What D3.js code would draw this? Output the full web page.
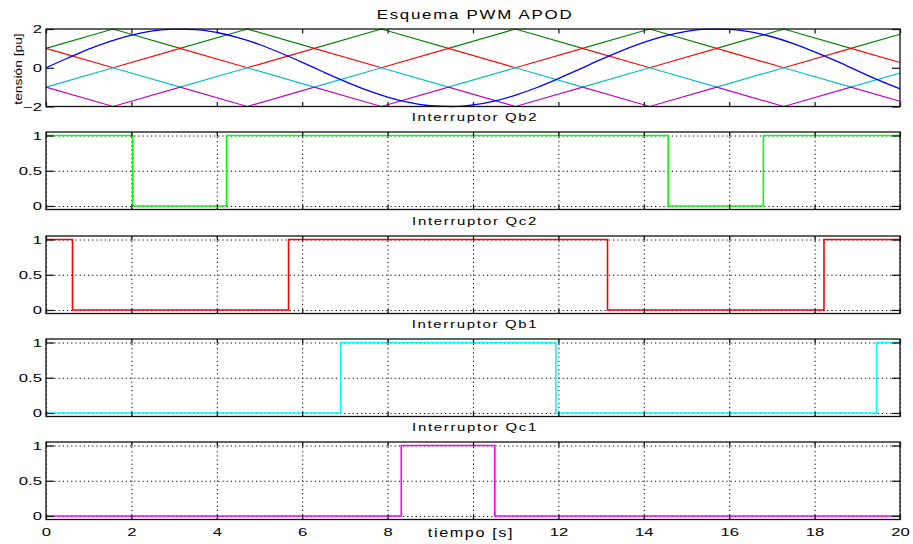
<!DOCTYPE html>
<html><head><meta charset="utf-8">
<script src="https://cdn.jsdelivr.net/npm/d3@7"></script>
<style>
body{margin:0;background:#fff;}
svg{display:block;font-family:"Liberation Sans",Arial,Helvetica,sans-serif;}
</style></head><body>
<svg id="c" width="913" height="544"></svg>
<script>
// ---------- data ----------
const carrierTime   = [0,1.571,3.142,4.712,6.283,7.854,9.425,10.996,12.566,14.137,15.708,17.279,18.850,20];
const carrierGreen  = [1,2,1,2,1,2,1,2,1,2,1,2,1,1.73];
const carrierRed    = [1,0,1,0,1,0,1,0,1,0,1,0,1,0.27];
const carrierCyan   = [-1,0,-1,0,-1,0,-1,0,-1,0,-1,0,-1,-0.27];
const carrierMagenta= [-1,-2,-1,-2,-1,-2,-1,-2,-1,-2,-1,-2,-1,-1.73];

const refTime   = [0,0.5,1,1.5,2,2.5,3,3.5,4,4.5,5,5.5,6,6.5,7,7.5,8,8.5,9,9.5,10,10.5,11,11.5,12,12.5,13,13.5,14,14.5,15,15.5,16,16.5,17,17.5,18,18.5,19,19.5,20];
const refValues = [0,0.49,0.96,1.36,1.68,1.90,1.99,1.97,1.82,1.56,1.20,0.76,0.28,-0.22,-0.70,-1.14,-1.51,-1.79,-1.96,-2.00,-1.92,-1.72,-1.41,-1.02,-0.56,-0.07,0.43,0.90,1.31,1.65,1.88,1.99,1.98,1.85,1.60,1.25,0.82,0.35,-0.15,-0.64,-1.09];

const qb2Times  = [0,2.03,4.23,14.57,16.80,20];
const qb2States = [1,0,1,0,1,1];
const qc2Times  = [0,0.62,5.68,13.15,18.22,20];
const qc2States = [1,0,1,0,1,1];
const qb1Times  = [0,6.90,11.94,19.45,20];
const qb1States = [0,1,0,1,1];
const qc1Times  = [0,8.32,10.51,20];
const qc1States = [0,1,0,0];

const titles = ["Esquema PWM APOD","Interruptor Qb2","Interruptor Qc2","Interruptor Qb1","Interruptor Qc1"];
const xTicks = [0,2,4,6,8,10,12,14,16,18,20];
const xTickLabels = ["0","2","4","6","8","","12","14","16","18","20"];
const topYTicks = [-2,0,2];
const topYTickLabels = ["\u22122","0","2"];
const switchYTicks = [0,0.5,1];
const switchYTickLabels = ["0","0.5","1"];
const xLabel = "tiempo [s]";
const yLabel = "tensión [pu]";

// ---------- layout ----------
const svg = d3.select("#c");
const L = 46, R = 900;
const W = R - L;
const panelTops = [29,132,236,339,442];
const panelH = 77.5;
const SX = 1.45;
const x = d3.scaleLinear().domain([0,20]).range([L,R]);

function stretchLeft(sel){
  sel.selectAll("text").each(function(){
    const t=d3.select(this); const xx=+t.attr("x");
    t.attr("x",0).attr("transform",`translate(${xx},0) scale(${SX},1)`);
  });
}

function makePanel(i, ydom, yticks, grid){
  const top = panelTops[i], bot = top + panelH;
  const y = d3.scaleLinear().domain(ydom).range([bot, top]);
  const g = svg.append("g");
  if (grid){
    const gs = s=>{s.select(".domain").remove();
      s.selectAll("line").attr("stroke","#000").attr("stroke-width",1).attr("stroke-dasharray","1.2,3");};
    g.append("g").attr("transform",`translate(0,${bot})`)
      .call(d3.axisBottom(x).tickValues(xTicks).tickSize(-panelH).tickFormat("")).call(gs);
    g.append("g").attr("transform",`translate(${L},0)`)
      .call(d3.axisLeft(y).tickValues(yticks).tickSize(-W).tickFormat("")).call(gs);
  }
  return {g, y, top, bot};
}

function frame(p, yticks, ylabels, showX){
  const {g,y,top,bot} = p;
  const style = s=>{s.select(".domain").remove(); s.selectAll("line").attr("stroke","#111").attr("stroke-width",1.2);};
  const bx = g.append("g").attr("transform",`translate(0,${bot})`)
    .call(d3.axisBottom(x).tickValues(xTicks).tickSize(-4.5).tickPadding(8.5)
      .tickFormat((d,i)=> showX ? xTickLabels[i] : ""))
    .call(style);
  bx.selectAll("text").attr("font-size",11.5).attr("fill","#000").attr("font-family",null)
    .attr("transform",`scale(${SX},1)`);
  g.append("g").attr("transform",`translate(0,${top})`)
    .call(d3.axisTop(x).tickValues(xTicks).tickSize(-4.5).tickFormat("")).call(style);
  const ly = g.append("g").attr("transform",`translate(${L},0)`)
    .call(d3.axisLeft(y).tickValues(yticks).tickSize(-8).tickPadding(4)
      .tickFormat((d,i)=>ylabels[i]))
    .call(style);
  ly.selectAll("text").attr("font-size",11.5).attr("fill","#000").attr("font-family",null);
  stretchLeft(ly);
  g.append("g").attr("transform",`translate(${R},0)`)
    .call(d3.axisRight(y).tickValues(yticks).tickSize(-8).tickFormat("")).call(style);
  g.append("rect").attr("x",L).attr("y",top).attr("width",W).attr("height",bot-top)
    .attr("fill","none").attr("stroke","#111").attr("stroke-width",1.3);
}

function title(i, txt, size, sx, ls, dyOff){
  const top = panelTops[i];
  svg.append("text").attr("transform",`translate(${(L+R)/2+2},${top-dyOff}) scale(${sx},1)`)
    .attr("text-anchor","middle").attr("font-size",size).attr("letter-spacing",ls)
    .attr("fill","#000").text(txt);
}

// ---------- panel 1 ----------
const p1 = makePanel(0, [-2,2], topYTicks, false);
const line1 = d3.line().x(d=>x(d[0])).y(d=>p1.y(d[1]));
const carriers = [[carrierGreen,"#008000"],[carrierRed,"#ff0000"],[carrierCyan,"#00bfbf"],[carrierMagenta,"#bf00bf"]];
carriers.forEach(([vals,col])=>{
  p1.g.append("path").datum(carrierTime.map((t,k)=>[t,vals[k]]))
    .attr("d",line1).attr("fill","none").attr("stroke",col).attr("stroke-width",1.2);
});
p1.g.append("path").datum(refTime.map((t,k)=>[t,refValues[k]]))
  .attr("d",line1.curve(d3.curveMonotoneX)).attr("fill","none").attr("stroke","#0000ff").attr("stroke-width",1.3);
frame(p1, topYTicks, topYTickLabels, false);
title(0, titles[0], 13.5, 1.25, 1.4, 10);

// ---------- switch panels ----------
const sw = [[qb2Times,qb2States,"#00ff00"],[qc2Times,qc2States,"#ff0000"],[qb1Times,qb1States,"#00ffff"],[qc1Times,qc1States,"#ff00ff"]];
sw.forEach(([ts,ss,col],j)=>{
  const i=j+1;
  const p = makePanel(i, [-0.05,1.05], switchYTicks, true);
  const ln = d3.line().x(d=>x(d[0])).y(d=>p.y(d[1])).curve(d3.curveStepAfter);
  p.g.append("path").datum(ts.map((t,k)=>[t,ss[k]]))
    .attr("d",ln).attr("fill","none").attr("stroke",col).attr("stroke-width",1.6);
  frame(p, switchYTicks, switchYTickLabels, i===4);
  title(i, titles[i], 11.5, 1.3, 1.3, 11);
});

// ---------- axis labels ----------
svg.append("text").attr("transform",`translate(471,537) scale(1.35,1)`)
  .attr("text-anchor","middle").attr("font-size",12).attr("letter-spacing",1.2)
  .attr("fill","#000").text(xLabel);
svg.append("text").attr("transform",`translate(22,69) rotate(-90) scale(1.2,1)`)
  .attr("text-anchor","middle").attr("font-size",11.5).attr("fill","#000").text(yLabel);
</script>
</body></html>
